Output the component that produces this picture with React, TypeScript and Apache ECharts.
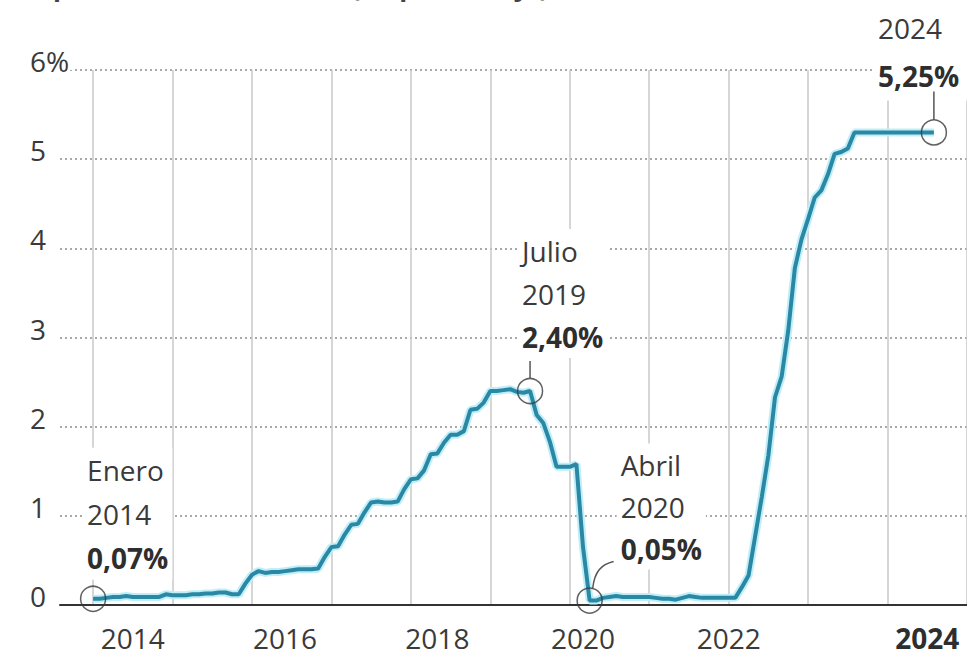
import React, { useEffect, useRef } from "react";
import * as echarts from "echarts";

// Monthly categories from Aug 2013 to Jan 2025
const months: string[] = [];
for (let y = 2013; y <= 2025; y++) {
  for (let m = 1; m <= 12; m++) {
    if ((y === 2013 && m < 8) || (y === 2025 && m > 1)) continue;
    months.push(`${y}-${String(m).padStart(2, "0")}`);
  }
}

// Federal funds effective rate (%), monthly
const rate2014 = [0.07, 0.07, 0.08, 0.09, 0.09, 0.1, 0.09, 0.09, 0.09, 0.09, 0.09, 0.12];
const rate2015 = [0.11, 0.11, 0.11, 0.12, 0.12, 0.13, 0.13, 0.14, 0.14, 0.12, 0.12, 0.24];
const rate2016 = [0.34, 0.38, 0.36, 0.37, 0.37, 0.38, 0.39, 0.4, 0.4, 0.4, 0.41, 0.54];
const rate2017 = [0.65, 0.66, 0.79, 0.9, 0.91, 1.04, 1.15, 1.16, 1.15, 1.15, 1.16, 1.3];
const rate2018 = [1.41, 1.42, 1.51, 1.69, 1.7, 1.82, 1.91, 1.91, 1.95, 2.19, 2.2, 2.27];
const rate2019 = [2.4, 2.4, 2.41, 2.42, 2.39, 2.38, 2.4, 2.13, 2.04, 1.83, 1.55, 1.55];
const rate2020 = [1.55, 1.58, 0.65, 0.05, 0.05, 0.08, 0.09, 0.1, 0.09, 0.09, 0.09, 0.09];
const rate2021 = [0.09, 0.08, 0.07, 0.07, 0.06, 0.08, 0.1, 0.09, 0.08, 0.08, 0.08, 0.08];
const rate2022 = [0.08, 0.08, 0.2, 0.33, 0.77, 1.21, 1.68, 2.33, 2.56, 3.08, 3.78, 4.1];
const rate2023 = [4.33, 4.57, 4.65, 4.83, 5.06, 5.08, 5.12, 5.3, 5.3, 5.3, 5.3, 5.3];
const rate2024 = [5.3, 5.3, 5.3, 5.3, 5.3, 5.3, 5.3, 5.3];

const rates = [
  ...rate2014, ...rate2015, ...rate2016, ...rate2017, ...rate2018, ...rate2019,
  ...rate2020, ...rate2021, ...rate2022, ...rate2023, ...rate2024,
];
const firstDataMonth = "2014-01";

// x-axis year labels (month at which each label is centred)
const yearLabelMonths = ["2014-07", "2016-06", "2018-05", "2020-03", "2022-01", "2024-07"];
const yTicks = [0, 1, 2, 3, 4, 5, 6];

// Annotations
const annotationMonths = ["2014-01", "2019-07", "2020-04", "2024-08"];
const annotationTitles = ["Enero\n2014", "Julio\n2019", "Abril\n2020", "Agosto\n2024"];
const annotationValues = ["0,07%", "2,40%", "0,05%", "5,25%"];

const titleText = "Tipo de interés de la Fed (en porcentaje)";

const FONT = "'Open Sans', 'Noto Sans', sans-serif";

export default function App() {
  const ref = useRef<HTMLDivElement>(null);

  useEffect(() => {
    if (!ref.current) return;
    const chart = echarts.init(ref.current, undefined, { renderer: "svg" });
    const startIdx = months.indexOf(firstDataMonth);
    const seriesData: (number | null)[] = months.map((_, i) => {
      const k = i - startIdx;
      return k >= 0 && k < rates.length ? rates[k] : null;
    });
    const labelIdx = yearLabelMonths.map((m) => months.indexOf(m));
    const lastLabel = labelIdx[labelIdx.length - 1];
    const annPoints = annotationMonths.map((m) => [months.indexOf(m), seriesData[months.indexOf(m)] as number]);

    chart.setOption({
      animation: false,
      grid: { left: 60, right: 0, top: 70, bottom: 53 },
      xAxis: {
        type: "category",
        data: months,
        boundaryGap: false,
        axisLine: { show: true, onZero: true, lineStyle: { color: "#333", width: 2 } },
        axisTick: { show: false },
        axisLabel: {
          interval: (i: number) => labelIdx.includes(i),
          formatter: (v: string, i: number) => (i === lastLabel ? `{b|${v.slice(0, 4)}}` : v.slice(0, 4)),
          margin: 19,
          fontFamily: FONT,
          fontSize: 28,
          color: "#3a3a3a",
          rich: { b: { fontFamily: FONT, fontSize: 28, fontWeight: "bold", color: "#2e2e2e" } },
        },
        splitLine: {
          show: true,
          interval: (i: number) => months[i].endsWith("-01"),
          lineStyle: { color: "#c9c9c9", width: 1.5 },
        },
      },
      yAxis: {
        type: "value",
        min: yTicks[0],
        max: yTicks[yTicks.length - 1],
        interval: 1,
        axisLine: { show: false },
        axisTick: { show: false },
        axisLabel: {
          formatter: (v: number) => (v === 6 ? "6%" : String(v)),
          align: "left",
          margin: 30,
          fontFamily: FONT,
          fontSize: 28,
          color: "#3a3a3a",
          verticalAlign: "bottom",
          lineHeight: 18,
          padding: [0, 3, 0, 0],
          backgroundColor: "#fff",
        },
        splitLine: { show: true, lineStyle: { color: "#8c8c8c", width: 1.5, type: [2, 3] } },
      },
      series: [
        {
          type: "line",
          data: seriesData,
          showSymbol: false,
          silent: true,
          lineStyle: { color: "#bfeef8", width: 8 },
          z: 2,
        },
        {
          type: "line",
          data: seriesData,
          showSymbol: false,
          lineStyle: { color: "#2a88a5", width: 4 },
          z: 3,
        },
        {
          type: "scatter",
          data: annPoints,
          symbol: "circle",
          symbolSize: 25,
          itemStyle: { color: "rgba(255,255,255,0)", borderColor: "#3a3a3a", borderWidth: 1.5 },
          z: 4,
        },
      ],
    });

    // layout offsets of annotation blocks relative to the marked point
    const layout = [
      { dx: -10, dy: -151, lh: 44 },
      { dx: -12, dy: -162, lh: 43 },
      { dx: 27, dy: -157, lh: 42 },
      { dx: -60, dy: -176, lh: 48 },
    ];
    const graphics: any[] = [];
    annPoints.forEach((p, i) => {
      const [px, py] = chart.convertToPixel({ xAxisIndex: 0, yAxisIndex: 0 }, p) as number[];
      const L = layout[i];
      graphics.push({
        type: "text",
        x: px + L.dx,
        y: py + L.dy,
        z: 10,
        style: {
          text: `${annotationTitles[i]}\n{b|${annotationValues[i]}}`,
          fontFamily: FONT,
          fontSize: 28,
          fill: "#3a3a3a",
          lineHeight: L.lh,
          align: "left",
          verticalAlign: "top",
          backgroundColor: "#fff",
          padding: [0, 4, 0, 4],
          rich: { b: { fontFamily: FONT, fontSize: 28, fontWeight: "bold", fill: "#2e2e2e", lineHeight: L.lh } },
        },
      });
      if (i === 1 || i === 3) {
        const top = i === 1 ? py - 30 : py - 41;
        graphics.push({
          type: "line",
          z: 10,
          shape: { x1: px, y1: py - 12.5, x2: px, y2: top },
          style: { stroke: "#555", lineWidth: 1.5 },
        });
      }
      if (i === 2) {
        graphics.push({
          type: "bezierCurve",
          z: 10,
          shape: { x1: px + 3, y1: py - 12, cpx1: px + 5, cpy1: py - 30, cpx2: px + 12, cpy2: py - 36, x2: px + 24, y2: py - 39 },
          style: { stroke: "#555", lineWidth: 1.5, fill: "none" },
        });
      }
    });
    graphics.push({
      type: "text",
      x: 30,
      y: -14,
      style: {
        text: titleText,
        fontFamily: FONT,
        fontSize: 26,
        fontWeight: "bold",
        fill: "#444",
        align: "left",
        verticalAlign: "middle",
      },
    });
    chart.setOption({ graphic: graphics });

    return () => chart.dispose();
  }, []);

  return <div ref={ref} style={{ position: "fixed", left: 0, top: 0, width: 967, height: 658, background: "#fff" }} />;
}
